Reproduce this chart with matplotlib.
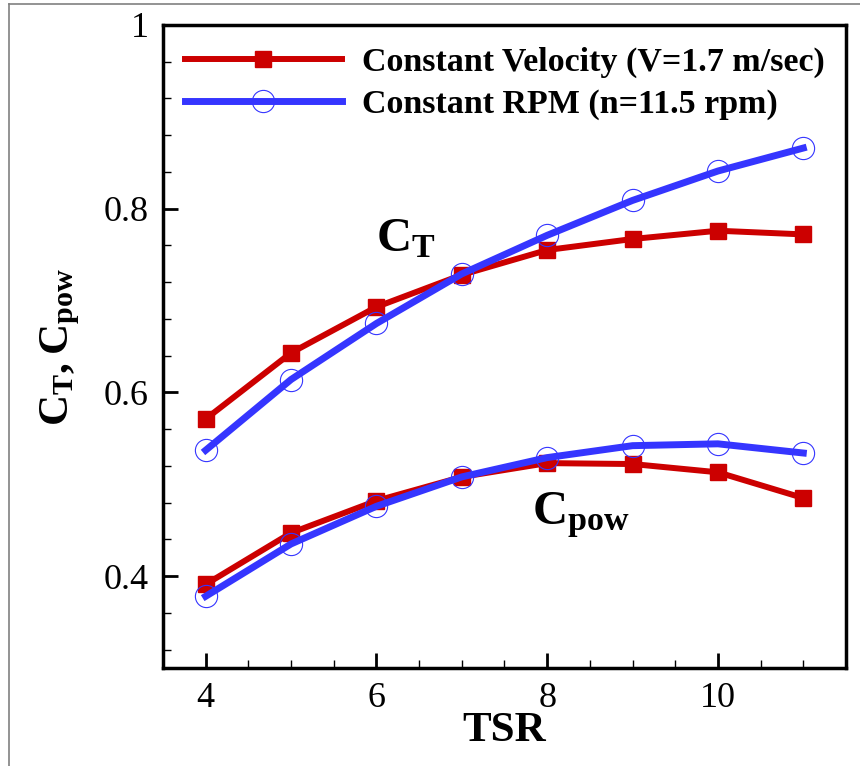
import numpy as np
import matplotlib
matplotlib.use("Agg")
import matplotlib.pyplot as plt
from matplotlib.lines import Line2D
from matplotlib.ticker import MultipleLocator

plt.rcParams['font.family'] = ['Liberation Serif', 'DejaVu Serif']
plt.rcParams['mathtext.fontset'] = 'custom'
plt.rcParams['mathtext.rm'] = 'Liberation Serif'
plt.rcParams['mathtext.bf'] = 'Liberation Serif:bold'

# data
tsr = [4, 5, 6, 7, 8, 9, 10, 11]
ct_vel = [0.571, 0.643, 0.693, 0.728, 0.755, 0.767, 0.776, 0.772]
ct_rpm = [0.537, 0.614, 0.675, 0.729, 0.771, 0.809, 0.841, 0.866]
cp_vel = [0.391, 0.447, 0.482, 0.508, 0.523, 0.522, 0.513, 0.485]
cp_rpm = [0.378, 0.435, 0.476, 0.508, 0.529, 0.542, 0.544, 0.534]

label_vel = "Constant Velocity (V=1.7 m/sec)"
label_rpm = "Constant RPM (n=11.5 rpm)"

red = '#CC0000'
blue = '#3535FF'

fig = plt.figure(figsize=(8.6, 7.66), dpi=100)
ax = fig.add_axes([0.1895, 0.128, 0.7942, 0.8394])

red_kw = dict(color=red, lw=4.3, marker='s', ms=11, mec=red, mfc=red)
blue_kw = dict(color=blue, lw=5, marker='o', ms=16, mfc='none', mec=blue, mew=0.8)

ax.plot(tsr, ct_vel, label=label_vel, **red_kw)
ax.plot(tsr, cp_vel, **red_kw)
ax.plot(tsr, ct_rpm, label=label_rpm, **blue_kw)
ax.plot(tsr, cp_rpm, **blue_kw)

ax.set_xlim(3.5, 11.5)
ax.set_ylim(0.3, 1.0)
ax.set_xticks([4, 6, 8, 10])
ax.set_yticks([0.4, 0.6, 0.8, 1.0])
ax.set_yticklabels(['0.4', '0.6', '0.8', '1'])
ax.xaxis.set_minor_locator(MultipleLocator(0.5))
ax.yaxis.set_minor_locator(MultipleLocator(0.04))
ax.tick_params(which='major', direction='in', length=11, width=2, labelsize=26, pad=10)
ax.tick_params(which='minor', direction='in', length=6, width=1)
for s in ax.spines.values():
    s.set_linewidth(2.5)

ax.set_xlabel('TSR', fontsize=31, fontweight='bold', labelpad=-2)
ax.set_ylabel(r'$\mathbf{C_T,C_{pow}}$', fontsize=31, labelpad=16)

ax.text(6.0, 0.753, r'$\mathbf{C_T}$', fontsize=35, va='baseline', ha='left')
ax.text(7.82, 0.456, r'$\mathbf{C_{pow}}$', fontsize=35, va='baseline', ha='left')

leg = ax.legend(loc='upper left', frameon=False, handlelength=4.6,
                handletextpad=0.6, labelspacing=0.3, borderaxespad=0.25,
                prop={'weight': 'bold', 'size': 24.5})

# grey frame around the figure (top and left edges)
fig.add_artist(Line2D([9 / 860, 1], [1 - 4 / 766, 1 - 4 / 766], color='#808080', lw=1.2,
                      transform=fig.transFigure))
fig.add_artist(Line2D([9 / 860, 9 / 860], [0, 1 - 4 / 766], color='#808080', lw=1.2,
                      transform=fig.transFigure))

fig.savefig('out.png', dpi=100)
